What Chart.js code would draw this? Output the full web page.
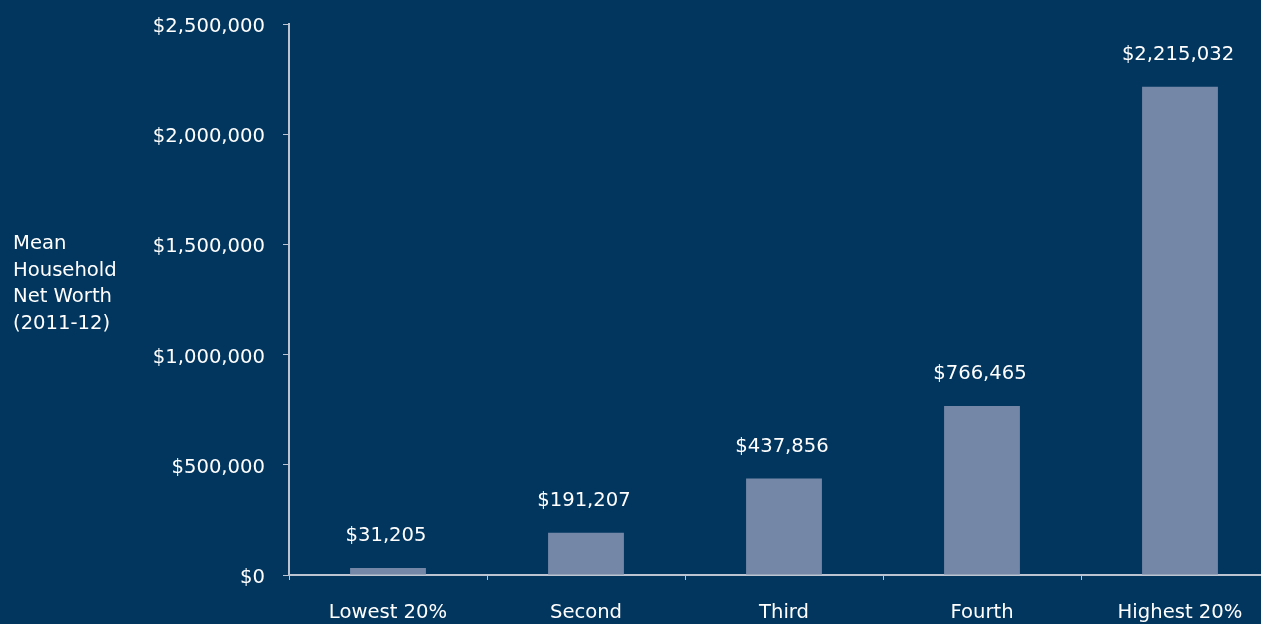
<!DOCTYPE html>
<html>
<head>
<meta charset="utf-8">
<script src="https://cdn.jsdelivr.net/npm/chart.js@4"></script>
<style>
  html, body { margin: 0; padding: 0; background: #02365f; overflow: hidden; }
  #wrap { position: relative; width: 1279px; height: 624px; }
</style>
</head>
<body>
<div id="wrap"><canvas id="chart"></canvas></div>
<script>
'use strict';

const quintiles = ['Lowest 20%', 'Second', 'Third', 'Fourth', 'Highest 20%'];
const netWorth = [31205, 191207, 437856, 766465, 2215032];
const yTicks = [0, 500000, 1000000, 1500000, 2000000, 2500000];
const yTitle = ['Mean', 'Household', 'Net Worth', '(2011-12)'];

const FONT = '"DejaVu Sans", sans-serif';
const SIZE = 19.6;
const money = v => '$' + v.toLocaleString('en-US');

const labelPlugin = {
  id: 'labels',
  afterDatasetsDraw(chart) {
    const ctx = chart.ctx;
    const meta = chart.getDatasetMeta(0);
    ctx.save();
    ctx.fillStyle = '#ffffff';
    ctx.font = SIZE + 'px ' + FONT;
    ctx.textAlign = 'center';
    ctx.textBaseline = 'middle';
    meta.data.forEach((bar, i) => {
      ctx.fillText(money(netWorth[i]), bar.x - 2, bar.y - 32);
    });
    ctx.textAlign = 'left';
    yTitle.forEach((line, i) => {
      ctx.fillText(line, 13, 244 + i * 26.5);
    });
    ctx.restore();
  }
};

let canvasElem = document.getElementById('chart');

const data = {
  labels: quintiles,
  datasets: [{
    data: netWorth,
    backgroundColor: '#7587a6',
    categoryPercentage: 1,
    barPercentage: 0.383
  }]
};

const config = {
  type: 'bar',
  data: data,
  plugins: [labelPlugin],
  options: {
    responsive: true,
    maintainAspectRatio: false,
    animation: false,
    layout: { padding: { top: 24, right: 0, left: 0, bottom: 0 } },
    plugins: { legend: { display: false }, tooltip: { enabled: false } },
    scales: {
      x: {
        grid: { display: true, drawOnChartArea: false, drawTicks: true, tickLength: 5, color: '#bcc4d2', offset: true },
        border: { display: true, color: '#bcc4d2', width: 2 },
        ticks: { color: '#ffffff', font: { family: FONT, size: SIZE }, padding: 21 },
        afterFit: axis => { axis.height = 49; }
      },
      y: {
        min: 0,
        max: 2500000,
        afterBuildTicks: axis => { axis.ticks = yTicks.map(v => ({ value: v })); },
        afterFit: axis => { axis.width = 289; axis.paddingTop = 0; axis.paddingBottom = 0; },
        grid: { display: true, drawOnChartArea: false, drawTicks: true, tickLength: 6, color: '#bcc4d2' },
        border: { display: true, color: '#bcc4d2', width: 2 },
        ticks: {
          color: '#ffffff',
          font: { family: FONT, size: SIZE },
          padding: 18,
          labelOffset: 3,
          callback: v => money(v)
        }
      }
    }
  }
};

new Chart(canvasElem, config);
</script>
</body>
</html>
